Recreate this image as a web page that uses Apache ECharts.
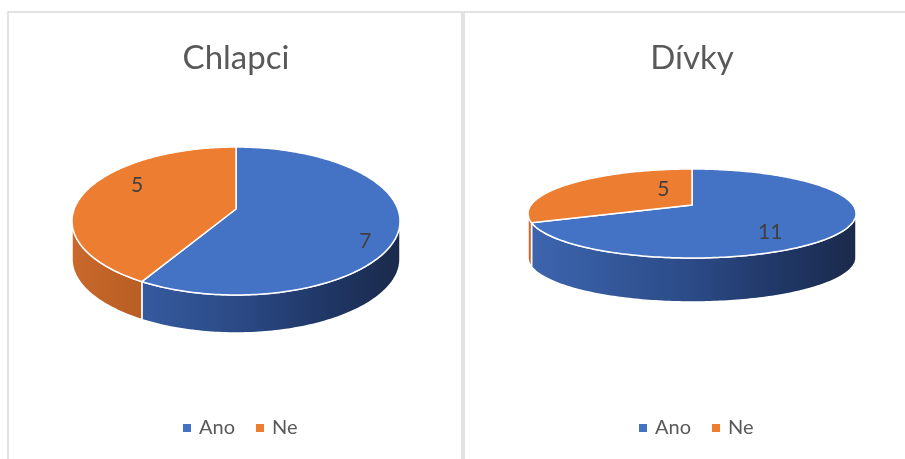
<!DOCTYPE html>
<html>
<head>
<meta charset="utf-8">
<script src="https://cdn.jsdelivr.net/npm/echarts@6/dist/echarts.min.js"></script>
<style>html,body{margin:0;padding:0;background:#fff}#c{width:905px;height:459px}</style>
</head>
<body>
<div id="c"></div>
<script>
// ---- data ----
const categories = ['Ano', 'Ne'];
const titles = ['Chlapci', 'Dívky'];
const chlapci = [7, 5];
const divky = [11, 5];
const pieValues = [chlapci, divky];

// ---- style / layout ----
const FONT = 'Lato';
const topColors = ['#4472C4', '#ED7D31'];
const sideStops = [
  [{offset: 0, color: '#3D66B0'}, {offset: 0.5, color: '#2B4A86'}, {offset: 0.8, color: '#1F3563'}, {offset: 1, color: '#1B2A4B'}],
  [{offset: 0, color: '#C9682C'}, {offset: 0.25, color: '#B55C22'}, {offset: 1, color: '#8F4718'}]
];
const layout = [
  {cx: 236, cy: 209, halfW: 164, top: 147, bottom: 295, depth: 38, titleY: 58, legendX: 183, labels: [[0.8, 17], [0.65, -12]]},
  {cx: 692, cy: 205, halfW: 164, top: 169, bottom: 258, depth: 44, titleY: 58, legendX: 639, labels: [[0.55, 13], [0.22, -11]]}
];
layout.forEach(L => {
  const a = L.cy - L.top, b = L.bottom - L.cy;
  L.p = (b - a) / (b + a);
  L.B = a * (1 + L.p);
  L.A = L.halfW * Math.sqrt(1 - L.p * L.p);
  L.thetaR = Math.acos(-L.p) * 180 / Math.PI;
  L.thetaL = 360 - L.thetaR;
});

function project(L, deg, f) {
  const t = deg * Math.PI / 180;
  const u = f * Math.sin(t), v = -f * Math.cos(t);
  const w = 1 - L.p * v;
  return [L.cx + L.A * u / w, L.cy + L.B * v / w];
}
function arcPts(L, a0, a1, dy) {
  const pts = [];
  const n = Math.max(2, Math.ceil(Math.abs(a1 - a0)));
  for (let i = 0; i <= n; i++) {
    const q = project(L, a0 + (a1 - a0) * i / n, 1);
    pts.push([q[0], q[1] + dy]);
  }
  return pts;
}

function makeRender(pi, ci) {
  return function (params, api) {
    const vals = pieValues[pi];
    const total = vals.reduce((s, v) => s + v, 0);
    let before = 0;
    for (let k = 0; k < ci; k++) before += vals[k];
    const value = api.value(0);
    const a0 = before / total * 360;
    const a1 = (before + value) / total * 360;
    const L = layout[pi];
    const children = [];
    // side (visible front wall)
    const s = Math.max(a0, L.thetaR), e = Math.min(a1, L.thetaL);
    if (e > s) {
      const topArc = arcPts(L, s, e, 0);
      const botArc = arcPts(L, e, s, L.depth);
      children.push({
        type: 'polygon', z2: 0,
        shape: {points: topArc.concat(botArc)},
        style: {
          fill: new echarts.graphic.LinearGradient(L.cx - L.halfW, 0, L.cx + L.halfW, 0, sideStops[ci], true),
          stroke: '#ffffff', lineWidth: 1.5
        }
      });
    }
    // top face
    const c = project(L, 0, 0);
    children.push({
      type: 'polygon', z2: 10,
      shape: {points: [c].concat(arcPts(L, a0, a1, 0))},
      style: {fill: topColors[ci], stroke: '#ffffff', lineWidth: 1.5}
    });
    // label
    const mid = (a0 + a1) / 2;
    const lp = project(L, mid, L.labels[ci][0]);
    children.push({
      type: 'text', z2: 20,
      x: lp[0], y: lp[1] + L.labels[ci][1],
      style: {text: String(value), fill: '#404040', fontSize: 21, fontFamily: FONT, align: 'center', verticalAlign: 'middle'}
    });
    return {type: 'group', children: children};
  };
}

const series = [];
pieValues.forEach((vals, pi) => {
  vals.forEach((v, ci) => {
    series.push({
      type: 'custom',
      name: categories[ci],
      coordinateSystem: 'none',
      itemStyle: {color: topColors[ci]},
      silent: true,
      animation: false,
      data: [[v]],
      renderItem: makeRender(pi, ci)
    });
  });
});

const graphics = [
  {type: 'rect', shape: {x: 8, y: 12, width: 454, height: 480}, style: {fill: 'none', stroke: '#D9D9D9', lineWidth: 1.5}, silent: true},
  {type: 'rect', shape: {x: 464, y: 12, width: 480, height: 480}, style: {fill: 'none', stroke: '#D9D9D9', lineWidth: 1.5}, silent: true}
];
titles.forEach((t, i) => {
  graphics.push({
    type: 'text', x: layout[i].cx, y: layout[i].titleY,
    style: {text: t, fill: '#595959', fontSize: 33, fontFamily: FONT, align: 'center', verticalAlign: 'middle'},
    silent: true
  });
});

const legends = layout.map(L => ({
  data: categories,
  left: L.legendX, top: 418,
  padding: 0,
  icon: 'rect', itemWidth: 8, itemHeight: 8, itemGap: 21,
  selectedMode: false,
  textStyle: {fontSize: 20, color: '#595959', fontFamily: FONT, padding: [0, 0, 0, 3]}
}));

const chart = echarts.init(document.getElementById('c'), null, {renderer: 'canvas'});
chart.setOption({
  backgroundColor: '#ffffff',
  animation: false,
  legend: legends,
  graphic: graphics,
  series: series
});
</script>
</body>
</html>
